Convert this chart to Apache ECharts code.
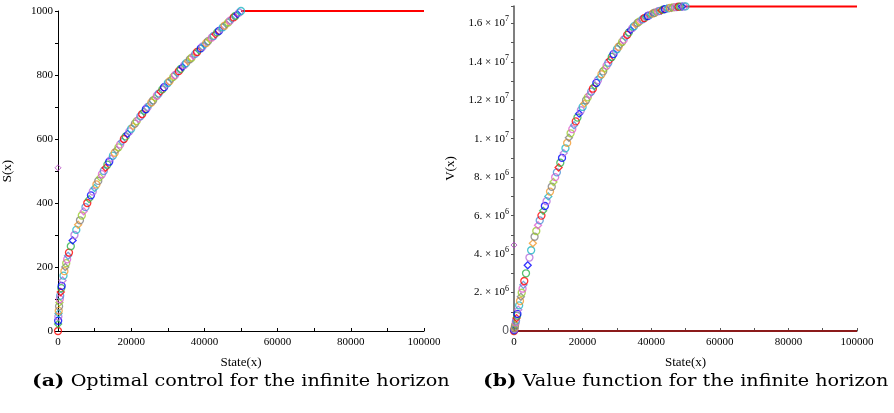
<!DOCTYPE html>
<html>
<head>
<meta charset="utf-8">
<script src="https://cdn.jsdelivr.net/npm/echarts@6/dist/echarts.min.js"></script>
<style>
  html, body { margin: 0; padding: 0; background: #fff; }
  #main { width: 894px; height: 413px; }
</style>
</head>
<body>
<div id="main"></div>
<script>
// state values where points were read
const stateX = [0, 25, 50, 100, 150, 200, 300, 400, 500, 600, 750, 900, 1000, 1250, 1500, 1750, 2000,
  2250, 2500, 2750, 3000, 3500, 4000, 4500, 5000, 5500, 6000, 6500, 7000, 7500, 8000, 8500, 9000, 9500,
  10000, 10500, 11000, 11500, 12000, 12500, 13000, 13500, 14000, 14500, 15000, 15500, 16000, 16500,
  17000, 17500, 18000, 18500, 19000, 19500, 20000, 20500, 21000, 21500, 22000, 22500, 23000, 23500,
  24000, 24500, 25000, 25500, 26000, 26500, 27000, 27500, 28000, 28500, 29000, 29500, 30000, 30500,
  31000, 31500, 32000, 32500, 33000, 33500, 34000, 34500, 35000, 35500, 36000, 36500, 37000, 37500,
  38000, 38500, 39000, 39500, 40000, 40500, 41000, 41500, 42000, 42500, 43000, 43500, 44000, 44500,
  45000, 45500, 46000, 46500, 47000, 47500, 48000, 48500, 49000, 49500, 50000];
// optimal control S(x)
const controlS = [0, 22, 32, 45, 55, 63, 77, 89, 100, 110, 122, 134, 141, 158, 173, 187, 200,
  212, 224, 235, 245, 265, 283, 300, 316, 332, 346, 361, 374, 387, 400, 412, 424, 436,
  447, 458, 469, 480, 490, 500, 510, 520, 529, 539, 548, 557, 566, 574,
  583, 592, 600, 608, 616, 624, 632, 640, 648, 656, 663, 671, 678, 686,
  693, 700, 707, 714, 721, 728, 735, 742, 748, 755, 762, 768, 775, 781,
  787, 794, 800, 806, 812, 819, 825, 831, 837, 843, 849, 854, 860, 866,
  872, 877, 883, 889, 894, 900, 906, 911, 917, 922, 927, 933, 938, 943,
  949, 954, 959, 964, 970, 975, 980, 985, 990, 995, 1000];
// value function V(x), in millions
const valueV = [0, 0.02, 0.045, 0.09, 0.135, 0.18, 0.27, 0.36, 0.45, 0.54, 0.67, 0.8, 0.89, 1.11, 1.33, 1.56, 1.78,
  1.99, 2.2, 2.4, 2.6, 3.0, 3.42, 3.82, 4.2, 4.56, 4.9, 5.2, 5.5, 5.75, 6.0, 6.25, 6.5, 6.75,
  7.0, 7.25, 7.5, 7.75, 8.0, 8.25, 8.5, 8.75, 9.0, 9.25, 9.5, 9.78, 10.05, 10.28,
  10.5, 10.7, 10.9, 11.1, 11.3, 11.48, 11.65, 11.83, 12.0, 12.15, 12.3, 12.45, 12.6, 12.75,
  12.9, 13.05, 13.2, 13.35, 13.5, 13.65, 13.8, 13.95, 14.1, 14.25, 14.4, 14.53, 14.65, 14.78,
  14.9, 15.03, 15.15, 15.28, 15.4, 15.53, 15.65, 15.75, 15.85, 15.94, 16.02, 16.09, 16.15, 16.21,
  16.27, 16.33, 16.38, 16.43, 16.47, 16.51, 16.55, 16.59, 16.62, 16.65, 16.68, 16.71, 16.74, 16.76,
  16.78, 16.8, 16.81, 16.83, 16.84, 16.85, 16.86, 16.865, 16.87, 16.875, 16.88];
const outlierS = [0, 510];
const outlierV = [0, 4.47e6];
const flatX = [50000, 100000];
const flatS = 1000;
const flatV = 16.88e6;
const zeroX = [0, 100000];

const palette = ['#ff0000', '#2fb24a', '#0000ff', '#b36bd9', '#1fb5c4', '#f29a2e', '#808080', '#9acb2e', '#e05cd0', '#4c8fd6'];
const symbols = ['circle', 'diamond', 'circle'];
const serif = 'Liberation Serif';

function pts(ys, scale) {
  return stateX.map((x, i) => ({
    value: [x, ys[i] * scale],
    symbol: symbols[i % 3],
    itemStyle: { borderColor: palette[i % palette.length] }
  }));
}

const chart = echarts.init(document.getElementById('main'));

const tickLabel = { fontFamily: serif, fontSize: 11, color: '#000' };

const option = {
  animation: false,
  grid: [
    { left: 58, top: 11, width: 366, height: 320 },
    { left: 514, top: 6, width: 343, height: 325 }
  ],
  xAxis: [0, 1].map(g => ({
    type: 'value', gridIndex: g, min: 0, max: 100000, interval: 10000,
    name: 'State(x)', nameLocation: 'middle', nameGap: 25,
    nameTextStyle: { fontFamily: serif, fontSize: 13, color: '#000' },
    axisLine: { lineStyle: { color: g ? '#555' : '#000', width: g ? 1.5 : 1 } },
    axisTick: { inside: true, length: 3, lineStyle: { color: g ? '#555' : '#000' } },
    axisLabel: Object.assign({ margin: 6, formatter: v => (v % 20000 === 0 ? String(v) : '') }, tickLabel),
    splitLine: { show: false }
  })),
  yAxis: [
    {
      type: 'value', gridIndex: 0, min: 0, max: 1000, interval: 100,
      name: 'S(x)', nameLocation: 'middle', nameGap: 44,
      nameTextStyle: { fontFamily: serif, fontSize: 13, color: '#000' },
      axisLine: { lineStyle: { color: '#000' } },
      axisTick: { length: 3, lineStyle: { color: '#000' } },
      axisLabel: Object.assign({ margin: 5, formatter: v => (v % 200 === 0 ? String(v) : '') }, tickLabel),
      splitLine: { show: false }
    },
    {
      type: 'value', gridIndex: 1, min: 0, max: 16.9e6, interval: 1e6,
      name: 'V(x)', nameLocation: 'middle', nameGap: 57,
      nameTextStyle: { fontFamily: serif, fontSize: 13, color: '#000' },
      axisLine: { lineStyle: { color: '#555', width: 1.5 } },
      axisTick: { length: 3, lineStyle: { color: '#555' } },
      axisLabel: {
        margin: 5,
        formatter: v => {
          v = Math.round(v);
          if (v === 0) return '0';
          if (v % 2e6 !== 0) return '';
          const e = v >= 1e7 ? 7 : 6;
          const m = v / Math.pow(10, e);
          const s = Number.isInteger(m) ? m + '.' : String(m);
          return '{m|' + s + ' × 10}{e|' + e + '}';
        },
        rich: {
          m: { fontFamily: serif, fontSize: 11, color: '#000', lineHeight: 16 },
          e: { fontFamily: serif, fontSize: 8, color: '#000', verticalAlign: 'top', lineHeight: 16 }
        }
      },
      splitLine: { show: false }
    }
  ],
  series: [
    {
      type: 'line', xAxisIndex: 0, yAxisIndex: 0, showSymbol: false,
      lineStyle: { color: '#ff0000', width: 2 },
      data: flatX.map(x => [x, flatS]), z: 1
    },
    {
      type: 'scatter', xAxisIndex: 0, yAxisIndex: 0, symbolSize: 7,
      itemStyle: { color: 'rgba(255,255,255,0)', borderWidth: 1.3 },
      data: pts(controlS, 1), z: 3
    },
    {
      type: 'scatter', xAxisIndex: 0, yAxisIndex: 0, symbol: 'diamond', symbolSize: 6,
      itemStyle: { color: 'rgba(255,255,255,0)', borderColor: '#b040c0', borderWidth: 1 },
      data: [outlierS]
    },
    {
      type: 'line', xAxisIndex: 1, yAxisIndex: 1, showSymbol: false,
      lineStyle: { color: '#8b1a1a', width: 2 },
      data: zeroX.map(x => [x, 0]), z: 1
    },
    {
      type: 'line', xAxisIndex: 1, yAxisIndex: 1, showSymbol: false,
      lineStyle: { color: '#ff0000', width: 2 },
      data: flatX.map(x => [x, flatV]), z: 1
    },
    {
      type: 'scatter', xAxisIndex: 1, yAxisIndex: 1, symbolSize: 7,
      itemStyle: { color: 'rgba(255,255,255,0)', borderWidth: 1.3 },
      data: pts(valueV, 1e6), z: 3
    },
    {
      type: 'scatter', xAxisIndex: 1, yAxisIndex: 1, symbol: 'diamond', symbolSize: 6,
      itemStyle: { color: 'rgba(255,255,255,0)', borderColor: '#b040c0', borderWidth: 1 },
      data: [outlierV]
    }
  ],
  graphic: [
    {
      type: 'text', x: 32, y: 373, scaleX: 1.2,
      style: {
        text: '{b|(a)} Optimal control for the infinite horizon',
        fontFamily: 'DejaVu Serif', fontSize: 16, fill: '#000',
        rich: { b: { fontFamily: 'DejaVu Serif', fontWeight: 'bold', fontSize: 17 } }
      }
    },
    {
      type: 'text', x: 483, y: 373, scaleX: 1.2,
      style: {
        text: '{b|(b)} Value function for the infinite horizon',
        fontFamily: 'DejaVu Serif', fontSize: 16, fill: '#000',
        rich: { b: { fontFamily: 'DejaVu Serif', fontWeight: 'bold', fontSize: 17 } }
      }
    }
  ]
};

chart.setOption(option);
</script>
</body>
</html>
